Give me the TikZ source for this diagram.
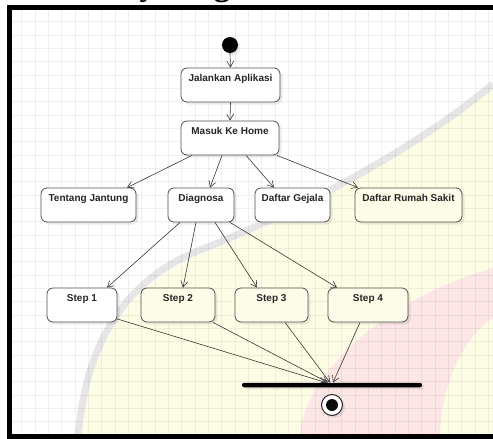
\documentclass[tikz,border=0pt]{standalone}
\usepackage{fontspec}
\setmainfont{Liberation Sans}
\newfontfamily\titlefont{Liberation Serif}
\usetikzlibrary{arrows.meta,shadows}
\definecolor{edgec}{RGB}{55,55,55}
\definecolor{boxline}{RGB}{80,80,80}
\definecolor{wmyellow}{RGB}{253,252,228}
\definecolor{wmpink}{RGB}{252,230,230}
\definecolor{wmgray}{RGB}{230,230,230}
\definecolor{boxyellow}{RGB}{253,252,232}
\pgfdeclarelayer{gridlayer}
\pgfdeclarelayer{wmlayer}
\pgfdeclarelayer{edgelayer}
\pgfsetlayers{gridlayer,wmlayer,edgelayer,main}
\tikzset{
  act/.style={draw=boxline, line width=0.8pt, rounded corners=6pt, fill=white,
    font=\bfseries\fontsize{10}{12}\selectfont, text=black!85, inner xsep=0pt, inner ysep=5pt,
    text height=8pt, text depth=16pt,
    drop shadow={shadow xshift=2.5pt, shadow yshift=-2.5pt, fill=black, opacity=0.08}},
  actw/.style={act, fill=boxyellow},
  flow/.style={draw=edgec, line width=0.6pt, -{Straight Barb[length=6pt,width=7pt]}},
}
\begin{document}
\begin{tikzpicture}[x=1pt,y=-1pt]
\useasboundingbox (0,0) rectangle (493,439);
\begin{pgfonlayer}{gridlayer}
\fill[white] (0,0) rectangle (493,439);
\end{pgfonlayer}
% watermark and grid (under the diagram)
\begin{pgfonlayer}{wmlayer}
\begin{scope}
\clip (12,10) rectangle (493,434);
\fill[wmyellow] (493,88) .. controls (420,150) and (300,215) .. (200,255)
  .. controls (140,280) and (90,330) .. (82,439) -- (493,439) -- cycle;
\fill[wmpink] (300,439) .. controls (300,380) and (380,300) .. (493,268)
  -- (493,318) .. controls (460,340) and (440,390) .. (440,439) -- cycle;
\draw[wmgray, line width=7pt] (493,84) .. controls (420,146) and (300,211) .. (198,251)
  .. controls (136,276) and (86,330) .. (78,439);
\foreach \i in {0,...,36} {
  \draw[black, opacity=0.06, line width=0.6pt] ({8.33+13.33*\i},8) -- ({8.33+13.33*\i},436);
}
\foreach \j in {0,...,32} {
  \draw[black, opacity=0.06, line width=0.6pt] (8,{8.33+13.33*\j}) -- (493,{8.33+13.33*\j});
}
\end{scope}
\end{pgfonlayer}
% title (cut off at top)
\node[font=\titlefont\bfseries\fontsize{33}{36}\selectfont, anchor=base west, inner sep=0pt] (title) at (44,-5) {Activity Diagram};
% nodes
\node[circle, fill=black, minimum size=16pt, inner sep=0pt,
  drop shadow={shadow xshift=2.5pt, shadow yshift=-2.5pt, fill=black, opacity=0.08}] (start) at (230,45) {};
\node[act, minimum width=99pt] (jal) at (230.5,85) {Jalankan Aplikasi};
\node[act, minimum width=98pt] (home) at (230,138) {Masuk Ke Home};
\node[act, minimum width=95pt] (tent) at (88.5,205) {Tentang Jantung};
\node[act, minimum width=66pt] (diag) at (201,205) {Diagnosa};
\node[act, minimum width=75pt] (gej) at (292.5,205) {Daftar Gejala};
\node[actw, minimum width=107pt] (rum) at (408.5,205) {Daftar Rumah Sakit};
\node[act, minimum width=70pt] (s1) at (82,305) {Step 1};
\node[actw, minimum width=74pt] (s2) at (178,305) {Step 2};
\node[actw, minimum width=73pt] (s3) at (271.5,305) {Step 3};
\node[actw, minimum width=80pt] (s4) at (368,305) {Step 4};
\node[fill=black, minimum width=180pt, minimum height=4.5pt, inner sep=0pt, rounded corners=2pt,
  drop shadow={shadow xshift=2pt, shadow yshift=-2pt, fill=black, opacity=0.08}] (bar) at (332,385) {};
\node[circle, draw=black!85, line width=1pt, minimum size=21pt, inner sep=0pt, fill=white,
  drop shadow={shadow xshift=2.5pt, shadow yshift=-2.5pt, fill=black, opacity=0.08}] (final) at (332,405) {};
\node[circle, fill=black!95, minimum size=12pt, inner sep=0pt] (finaldot) at (final.center) {};
% edges
\begin{pgfonlayer}{edgelayer}
\draw[flow] (start.south) -- (jal.north);
\draw[flow] (jal.south) -- (home.north);
\draw[flow] ([xshift=-38pt]home.south) -- ([xshift=38.5pt]tent.north);
\draw[flow] ([xshift=-8pt]home.south) -- ([xshift=9pt]diag.north);
\draw[flow] ([xshift=16pt]home.south) -- ([xshift=-18.5pt]gej.north);
\draw[flow] ([xshift=47pt]home.south) -- ([xshift=-50.5pt]rum.north);
\draw[flow] ([xshift=-21pt]diag.south) -- ([xshift=25pt]s1.north);
\draw[flow] ([xshift=-5pt]diag.south) -- ([xshift=5pt]s2.north);
\draw[flow] ([xshift=14pt]diag.south) -- ([xshift=-14.5pt]s3.north);
\draw[flow] ([xshift=29pt]diag.south) -- ([xshift=-31pt]s4.north);
\draw[flow] ([xshift=-2pt,yshift=4pt]s1.south east) -- ([xshift=-6pt]bar.north);
\draw[flow] ([xshift=35pt]s2.south) -- ([xshift=-4pt]bar.north);
\draw[flow] ([xshift=13.5pt]s3.south) -- ([xshift=-2pt]bar.north);
\draw[flow] ([xshift=-8pt]s4.south) -- ([xshift=1pt]bar.north);
\end{pgfonlayer}
% frame
\draw[line width=5pt] (9.5,7.5) rectangle (520,436.5);
\end{tikzpicture}
\end{document}
